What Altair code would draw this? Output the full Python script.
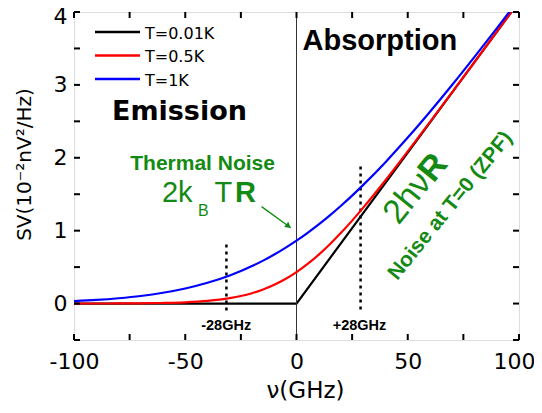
import altair as alt
import pandas as pd

# ---- data ----
nu = [-100, -90, -80, -70, -60, -50, -40, -30, -25, -20, -15, -10, -5, 0,
      5, 10, 15, 20, 25, 30, 40, 50, 60, 70, 80, 90, 100]
s_red = [0.0003, 0.0007, 0.0015, 0.0035, 0.0079, 0.0172, 0.0364, 0.0739, 0.103, 0.1423, 0.193, 0.2568, 0.336, 0.431,
         0.543, 0.671, 0.814, 0.970, 1.138, 1.316, 1.692, 2.087, 2.492, 2.902, 3.314, 3.727, 4.14]
s_blue = [0.034, 0.050, 0.073, 0.104, 0.148, 0.207, 0.285, 0.386, 0.446, 0.514, 0.589, 0.672, 0.764, 0.863,
          0.971, 1.086, 1.210, 1.342, 1.481, 1.628, 1.940, 2.277, 2.632, 3.002, 3.385, 3.776, 4.174]
nu_black = [-100, 0, 100]
s_black = [0.0, 0.0, 4.14]

series = ["T=0.01K", "T=0.5K", "T=1K"]
colors = ["#000000", "#ff0000", "#0000ff"]

x_ticks = [-100, -75, -50, -25, 0, 25, 50, 75, 100]
x_labels = [-100, -50, 0, 50, 100]
y_ticks = [-0.5, 0, 0.5, 1, 1.5, 2, 2.5, 3, 3.5, 4]
y_labels = [0, 1, 2, 3, 4]

zero_line = [0]
marker_nu = [-31.5, 28.8]
marker_top = [0.81, 1.88]
marker_bottom = [-0.11, -0.09]
marker_text = ["-28GHz", "+28GHz"]
marker_text_nu = [-31.6, 28.3]
marker_text_s = [-0.36, -0.36]

GREEN = "#138a13"
FONT = "Liberation Sans"
WIDE = "DejaVu Sans"
W, H = 445, 328

# legend layout (pixels inside the plot area)
legend_row_y = [20, 43.5, 67]
legend_x0, legend_x1, legend_tx = 21, 66, 71

xs = alt.Scale(domain=[-100, 100], nice=False, zero=False)
ys = alt.Scale(domain=[-0.5, 4], nice=False, zero=False)

x_axis = alt.Axis(values=x_labels, title="ν(GHz)", ticks=False, domain=False, grid=False,
                  labelExpr="'' + datum.value",
                  labelOffset={"condition": {"test": "datum.value == 100", "value": -5}, "value": 0},
                  labelFontSize=22, labelFont=WIDE, labelColor="black", labelPadding=11,
                  titleFontSize=23, titleFont=WIDE, titleFontWeight="normal", titleColor="black",
                  titleX=231, titleY=57, titleBaseline="alphabetic", labelFlush=False)
y_axis = alt.Axis(values=y_labels, title="SV(10⁻²nV²/Hz)", ticks=False, domain=False, grid=False,
                  labelExpr="'' + datum.value",
                  labelOffset={"condition": {"test": "datum.value == 4", "value": 4}, "value": 0},
                  labelFontSize=22, labelFont=WIDE, labelColor="black", labelPadding=7,
                  titleFontSize=20, titleFont=WIDE, titleFontWeight="normal", titleColor="black",
                  titleX=-50, titleY=152, titleBaseline="middle", titleAngle=270, labelFlush=False)

color = alt.Color("T:N", scale=alt.Scale(domain=series, range=colors), legend=None)

df_curves = pd.DataFrame({
    "nu": nu + nu,
    "S": s_red + s_blue,
    "T": ["T=0.5K"] * len(nu) + ["T=1K"] * len(nu),
})
df_black = pd.DataFrame({"nu": nu_black, "S": s_black, "T": ["T=0.01K"] * len(nu_black)})

black = alt.Chart(df_black).mark_line(clip=True, strokeWidth=2.2).encode(
    x=alt.X("nu:Q", scale=xs, axis=x_axis),
    y=alt.Y("S:Q", scale=ys, axis=y_axis),
    color=color,
)
curves = alt.Chart(df_curves).mark_line(clip=True, strokeWidth=2.2, interpolate="monotone").encode(
    x=alt.X("nu:Q", scale=xs),
    y=alt.Y("S:Q", scale=ys),
    color=color,
)

zero = alt.Chart(pd.DataFrame({"nu": zero_line})).mark_rule(color="#333333", strokeWidth=1).encode(
    x=alt.X("nu:Q", scale=xs)
)

df_mark = pd.DataFrame({"nu": marker_nu, "top": marker_top, "bottom": marker_bottom})
dotted = alt.Chart(df_mark).mark_rule(color="black", strokeWidth=2.5, strokeDash=[3, 4]).encode(
    x=alt.X("nu:Q", scale=xs), y=alt.Y("top:Q", scale=ys), y2="bottom:Q"
)
df_mtext = pd.DataFrame({"nu": marker_text_nu, "S": marker_text_s, "t": marker_text})
mtext = alt.Chart(df_mtext).mark_text(font=FONT, fontSize=14.5, fontWeight="bold", color="black",
                                      baseline="alphabetic", align="center").encode(
    x=alt.X("nu:Q", scale=xs), y=alt.Y("S:Q", scale=ys), text="t:N"
)

# frame ticks (inward)
dfx = pd.DataFrame({"v": x_ticks})
dfy = pd.DataFrame({"v": y_ticks})
tick_style = dict(color="black", strokeWidth=2)
tb = alt.Chart(dfx).mark_rule(**tick_style).encode(x=alt.X("v:Q", scale=xs), y=alt.value(H), y2=alt.value(H - 6))
tt = alt.Chart(dfx).mark_rule(**tick_style).encode(x=alt.X("v:Q", scale=xs), y=alt.value(0), y2=alt.value(6))
tl = alt.Chart(dfy).mark_rule(**tick_style).encode(y=alt.Y("v:Q", scale=ys), x=alt.value(0), x2=alt.value(6))
tr = alt.Chart(dfy).mark_rule(**tick_style).encode(y=alt.Y("v:Q", scale=ys), x=alt.value(W), x2=alt.value(W - 6))

# legend drawn as rules + labels
legend_layers = []
for name, col, ly in zip(series, colors, legend_row_y):
    ldf = pd.DataFrame({"T": [name]})
    legend_layers.append(
        alt.Chart(ldf).mark_rule(color=col, strokeWidth=2.3).encode(
            x=alt.value(legend_x0), x2=alt.value(legend_x1), y=alt.value(ly)
        )
    )
    legend_layers.append(
        alt.Chart(ldf).mark_text(font=WIDE, fontSize=16, color="black", align="left", baseline="middle").encode(
            x=alt.value(legend_tx), y=alt.value(ly + 1.5), text="T:N"
        )
    )

# big labels
t_abs = alt.Chart(pd.DataFrame({"nu": [2.7], "S": [3.48], "t": ["Absorption"]})).mark_text(
    font=FONT, fontSize=29, fontWeight="bold", color="black", align="left", baseline="alphabetic"
).encode(x=alt.X("nu:Q", scale=xs), y=alt.Y("S:Q", scale=ys), text="t:N")
t_emi = alt.Chart(pd.DataFrame({"nu": [-52.6], "S": [2.52], "t": ["Emission"]})).mark_text(
    font=WIDE, fontSize=27, fontWeight="bold", color="black", align="center", baseline="alphabetic"
).encode(x=alt.X("nu:Q", scale=xs), y=alt.Y("S:Q", scale=ys), text="t:N")

# thermal noise annotation
t_therm = alt.Chart(pd.DataFrame({"nu": [-42.2], "S": [1.836], "t": ["Thermal Noise"]})).mark_text(
    font=FONT, fontSize=21, fontWeight="bold", color=GREEN, align="center", baseline="alphabetic"
).encode(x=alt.X("nu:Q", scale=xs), y=alt.Y("S:Q", scale=ys), text="t:N")

kb_parts = ["2k", "T"]
kb_nu = [-60.5, -36.9]
kb_s = [1.40, 1.40]
t_kb = alt.Chart(pd.DataFrame({"nu": kb_nu, "S": kb_s, "t": kb_parts})).mark_text(
    font=FONT, fontSize=29, color=GREEN, align="left", baseline="alphabetic"
).encode(x=alt.X("nu:Q", scale=xs), y=alt.Y("S:Q", scale=ys), text="t:N")
t_sub = alt.Chart(pd.DataFrame({"nu": [-44.3], "S": [1.196], "t": ["B"]})).mark_text(
    font=FONT, fontSize=16, color=GREEN, align="left", baseline="alphabetic"
).encode(x=alt.X("nu:Q", scale=xs), y=alt.Y("S:Q", scale=ys), text="t:N")
t_R = alt.Chart(pd.DataFrame({"nu": [-27.6], "S": [1.40], "t": ["R"]})).mark_text(
    font=FONT, fontSize=29, fontWeight="bold", color=GREEN, align="left", baseline="alphabetic"
).encode(x=alt.X("nu:Q", scale=xs), y=alt.Y("S:Q", scale=ys), text="t:N")

arrow_df = pd.DataFrame({"nu": [-15.7], "S": [1.33], "nu2": [-2.6], "S2": [1.04]})
arrow = alt.Chart(arrow_df).mark_rule(color=GREEN, strokeWidth=1.3).encode(
    x=alt.X("nu:Q", scale=xs), y=alt.Y("S:Q", scale=ys), x2="nu2:Q", y2="S2:Q"
)
head = alt.Chart(pd.DataFrame({"nu": [-3.6], "S": [1.06]})).mark_point(
    shape="triangle-right", filled=True, size=45, angle=39, color=GREEN, opacity=1
).encode(x=alt.X("nu:Q", scale=xs), y=alt.Y("S:Q", scale=ys))

# ZPF annotation (rotated)
t_2hv = alt.Chart(pd.DataFrame({"nu": [45.8], "S": [1.068], "t": ["2hν"]})).mark_text(
    font=FONT, fontSize=34, color=GREEN, align="left", baseline="alphabetic", angle=309
).encode(x=alt.X("nu:Q", scale=xs), y=alt.Y("S:Q", scale=ys), text="t:N")
t_2hvR = alt.Chart(pd.DataFrame({"nu": [61.6], "S": [1.644], "t": ["R"]})).mark_text(
    font=FONT, fontSize=34, fontWeight="bold", color=GREEN, align="left", baseline="alphabetic", angle=309
).encode(x=alt.X("nu:Q", scale=xs), y=alt.Y("S:Q", scale=ys), text="t:N")
t_zpf = alt.Chart(pd.DataFrame({"nu": [45.3], "S": [0.31], "t": ["Noise at T=0 (ZPF)"]})).mark_text(
    font=FONT, fontSize=21, fontWeight="bold", color=GREEN, align="left", baseline="alphabetic", angle=309
).encode(x=alt.X("nu:Q", scale=xs), y=alt.Y("S:Q", scale=ys), text="t:N")

chart = alt.layer(
    black, zero, dotted, curves, mtext, tb, tt, tl, tr, *legend_layers,
    t_abs, t_emi, t_therm, t_kb, t_sub, t_R, arrow, head, t_2hv, t_2hvR, t_zpf
).properties(
    width=W, height=H,
    padding={"left": 66, "top": 4, "right": 15, "bottom": 61},
    autosize=alt.AutoSizeParams(type="none"),
).configure_view(stroke="black", strokeWidth=2.2).configure(background="white")

chart.save("out.html", embed_options={"renderer": "svg", "actions": False})
